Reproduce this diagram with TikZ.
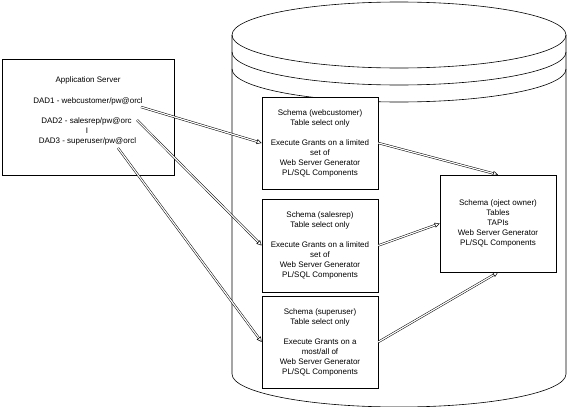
\documentclass[tikz,border=0pt]{standalone}
\usepackage{fontspec}
\setmainfont{Liberation Sans}
\usetikzlibrary{arrows.meta}
\begin{document}
\begin{tikzpicture}[x=1pt,y=-1pt, line width=0.6pt,
  box/.style={draw, fill=white, line width=0.6pt, inner sep=0pt, align=center, font=\fontsize{8}{10}\selectfont},
  txt/.style={inner sep=0pt, font=\fontsize{8}{10}\selectfont},
  conn/.style={double, double distance=1.2pt, line width=0.5pt, -{Triangle[open,length=5pt,width=5pt]}}
]
\useasboundingbox (0,0) rectangle (568,407);
% cylinder
\begin{scope}
\clip (0,0) rectangle (568,407);
\draw (399,35) ellipse [x radius=167, y radius=33];
\draw (232,52) arc[start angle=180, end angle=0, x radius=167, y radius=33];
\draw (232,69) arc[start angle=180, end angle=0, x radius=167, y radius=33];
\draw (232,35) -- (232,374) arc[start angle=180, end angle=0, x radius=167, y radius=33] -- (566,35);
\end{scope}
% application server
\node[box, minimum width=172, minimum height=116] (app) at (88,117) {};
\node[txt] (title) at (88,80) {Application Server};
\node[txt] (d1) at (88,101) {DAD1 - webcustomer/pw@orcl};
\node[txt] (d2) at (86.5,121) {DAD2 - salesrep/pw@orc};
\node[txt] (bar) at (87,131) {I};
\node[txt] (d3) at (87.5,141) {DAD3 - superuser/pw@orcl};
\coordinate (s1) at (141,107);
\coordinate (s2) at (137,120);
\coordinate (s3) at (118,148);
% schemas
\node[box, minimum width=116, minimum height=92] (w) at (320,143)
  {Schema (webcustomer)\\Table select only\\[10pt]Execute Grants on a limited\\set of\\Web Server Generator\\PL/SQL Components};
\node[box, minimum width=116, minimum height=93] (sr) at (320,245.5)
  {Schema (salesrep)\\Table select only\\[10pt]Execute Grants on a limited\\set of\\Web Server Generator\\PL/SQL Components};
\node[box, minimum width=116, minimum height=92] (su) at (320,342)
  {Schema (superuser)\\Table select only\\[10pt]Execute Grants on a\\most/all of\\Web Server Generator\\PL/SQL Components};
\node[box, minimum width=116, minimum height=97] (own) at (498,223.5)
  {Schema (oject owner)\\Tables\\TAPIs\\Web Server Generator\\PL/SQL Components};
% connectors
\draw[conn] (s1) -- (w.west);
\draw[conn] (s2) -- (sr.west);
\draw[conn] (s3) -- (su.west);
\draw[conn] (w.east) -- (own.north);
\draw[conn] (sr.east) -- (own.west);
\draw[conn] (su.east) -- (own.south);
\end{tikzpicture}
\end{document}
